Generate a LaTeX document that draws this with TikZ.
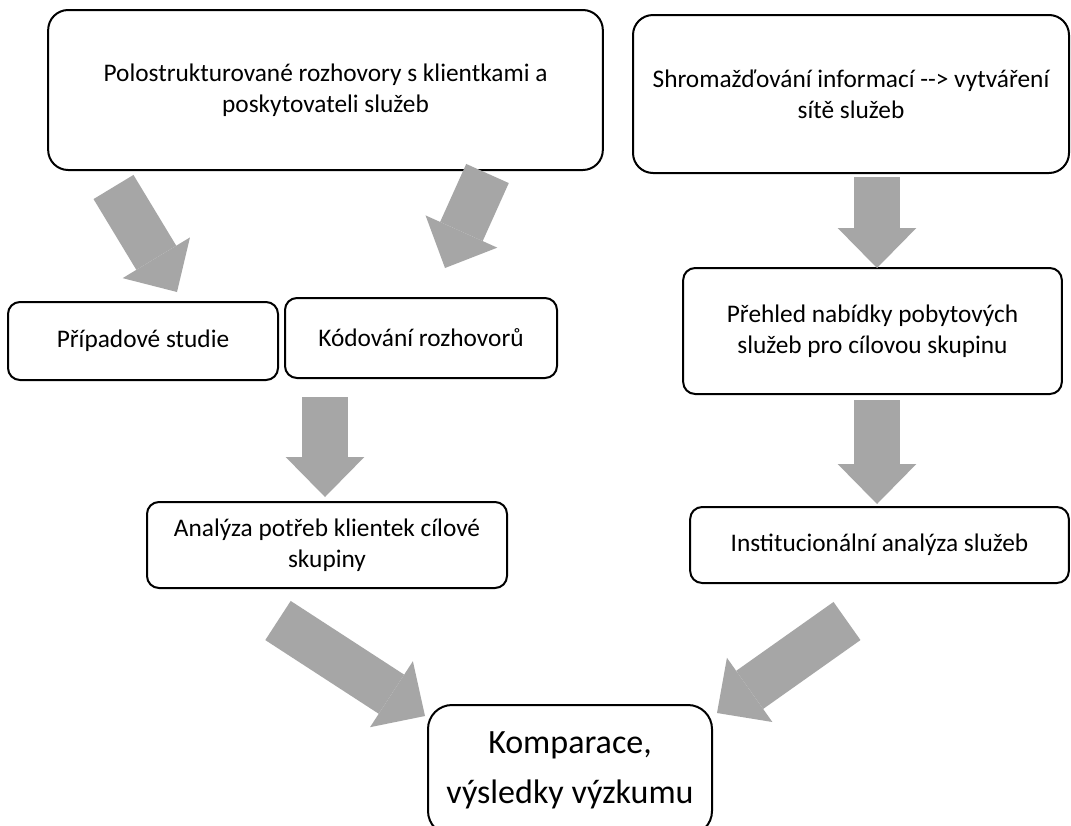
\documentclass[tikz,border=0pt]{standalone}
\usepackage{fontspec}
\setmainfont{Carlito}[Ligatures=TeXOff]
\usepackage{tikz}
\usetikzlibrary{arrows.meta}
\definecolor{FlowGrey}{HTML}{A6A6A6}

\begin{document}
\begin{tikzpicture}[
    x=0.75pt,y=-0.75pt,
    box/.style={draw=black,line width=1.5pt,fill=white,rounded corners=9pt,
      align=center,inner sep=0pt,font=\fontsize{19}{23.25}\selectfont},
    bigbox/.style={box,rounded corners=15pt},
    flow/.style={draw=FlowGrey,line width=35pt,
      -{Triangle[length=30pt,width=59pt,line width=0pt]}}
  ]
  \clip (0,0) rectangle (1071,825);
  \fill[white] (0,0) rectangle (1071,825);

  % left branch
  \node[bigbox,minimum width=416pt,minimum height=120pt] (interviews) at (325.5,90)
    {Polostrukturované rozhovory s klientkami a\\poskytovateli služeb};
  \node[box,minimum width=202.5pt,minimum height=58.5pt] (cases) at (143,341)
    {Případové studie};
  \node[box,minimum width=204pt,minimum height=60pt] (coding) at (421,338)
    {Kódování rozhovorů};
  \node[box,minimum width=270pt,minimum height=64.5pt] (needs) at (327,545)
    {Analýza potřeb klientek cílové\\skupiny};

  % right branch
  \node[bigbox,minimum width=327pt,minimum height=118.5pt] (network) at (851,94)
    {Shromažďování informací --> vytváření\\sítě služeb};
  \node[box,minimum width=284pt,minimum height=94.5pt] (offer) at (872.5,331)
    {Přehled nabídky pobytových\\služeb pro cílovou skupinu};
  \node[box,minimum width=284pt,minimum height=57pt] (institutions) at (879.5,545)
    {Institucionální analýza služeb};

  % result
  \node[bigbox,rounded corners=18pt,minimum width=213pt,minimum height=97.5pt,
    font=\fontsize{25.5}{37.5}\selectfont] (result) at (570,770)
    {Komparace,\\výsledky výzkumu};

  % arrow ends
  \coordinate (interviewsL) at (113.5,187);
  \coordinate (casesIn) at (177,292);
  \coordinate (interviewsR) at (487.5,173.5);
  \coordinate (codingIn) at (445,268);
  \coordinate (codingOut) at (325,397);
  \coordinate (needsIn) at (325,497);
  \coordinate (networkOut) at (877,177);
  \coordinate (offerIn) at (877,268);
  \coordinate (offerOut) at (877,400);
  \coordinate (institutionsIn) at (877,504);
  \coordinate (needsOut) at (278,620.5);
  \coordinate (resultInL) at (425,716);
  \coordinate (institutionsOut) at (847,621);
  \coordinate (resultInR) at (717,713);

  \draw[flow] (interviewsL) -- (casesIn);
  \draw[flow] (interviewsR) -- (codingIn);
  \draw[flow] (codingOut) -- (needsIn);
  \draw[flow] (networkOut) -- (offerIn);
  \draw[flow] (offerOut) -- (institutionsIn);
  \draw[flow] (needsOut) -- (resultInL);
  \draw[flow] (institutionsOut) -- (resultInR);
\end{tikzpicture}
\end{document}
